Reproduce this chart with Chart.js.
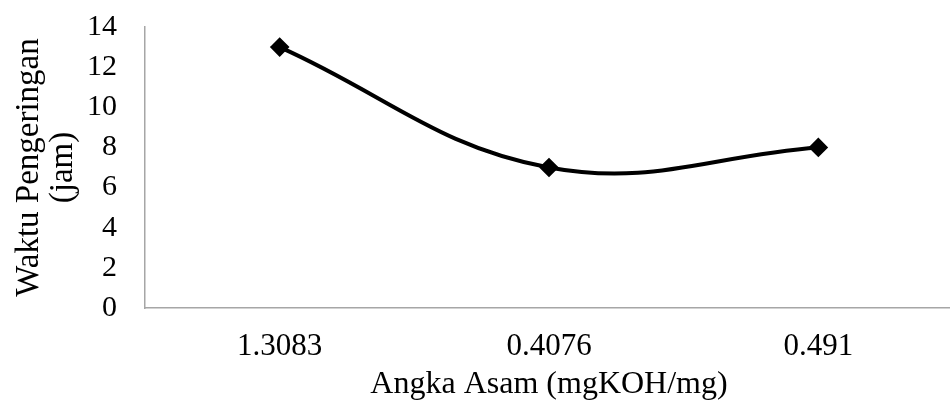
<!DOCTYPE html>
<html>
<head>
<meta charset="utf-8">
<script src="https://cdn.jsdelivr.net/npm/chart.js@4.4.0/dist/chart.umd.min.js"></script>
<style>
  html, body { margin: 0; padding: 0; background: #fff; overflow: hidden; }
  #wrap { width: 964px; height: 408px; }
</style>
</head>
<body>
<div id="wrap"><canvas id="chart"></canvas></div>
<script>
const categories = ['1.3083', '0.4076', '0.491'];
const dryingHours = [13, 7, 8];
const yTicks = [0, 2, 4, 6, 8, 10, 12, 14];

const serif = "'Liberation Serif', 'Times New Roman', serif";

new Chart(document.getElementById('chart'), {
  type: 'line',
  data: {
    labels: categories,
    datasets: [{
      label: 'Waktu Pengeringan',
      data: dryingHours,
      borderColor: '#000',
      backgroundColor: '#000',
      borderWidth: 4,
      tension: 0.4,
      pointStyle: 'rectRot',
      pointRadius: 7,
      pointHoverRadius: 7,
      fill: false
    }]
  },
  options: {
    responsive: true,
    maintainAspectRatio: false,
    animation: false,
    layout: { padding: { top: 0, left: 12, right: 0, bottom: 0 } },
    plugins: { legend: { display: false }, tooltip: { enabled: false } },
    scales: {
      x: {
        offset: true,
        grid: { display: false, drawTicks: false },
        border: { color: '#a6a6a6', width: 1.5 },
        ticks: { color: '#000', font: { family: serif, size: 31 }, padding: 20 },
        title: { display: true, text: 'Angka Asam (mgKOH/mg)', color: '#000', font: { family: serif, size: 32 }, padding: { top: 0, bottom: 4 } },
        afterFit: scale => { scale.height = 100; }
      },
      y: {
        min: 0,
        max: 14,
        afterBuildTicks: axis => { axis.ticks = yTicks.map(v => ({ value: v })); },
        grid: { display: false, drawTicks: false },
        border: { color: '#a6a6a6', width: 1.5 },
        ticks: { color: '#000', font: { family: serif, size: 30 }, padding: 28, autoSkip: false },
        title: { display: true, text: ['Waktu Pengeringan', '(jam)'], color: '#000', font: { family: serif, size: 33, lineHeight: 1.03 }, padding: { top: 0, bottom: 0 } },
        afterFit: scale => {
          scale.width = 133;
          scale.paddingTop = 27;
          scale.paddingBottom = 18;
        }
      }
    }
  }
});
</script>
</body>
</html>
